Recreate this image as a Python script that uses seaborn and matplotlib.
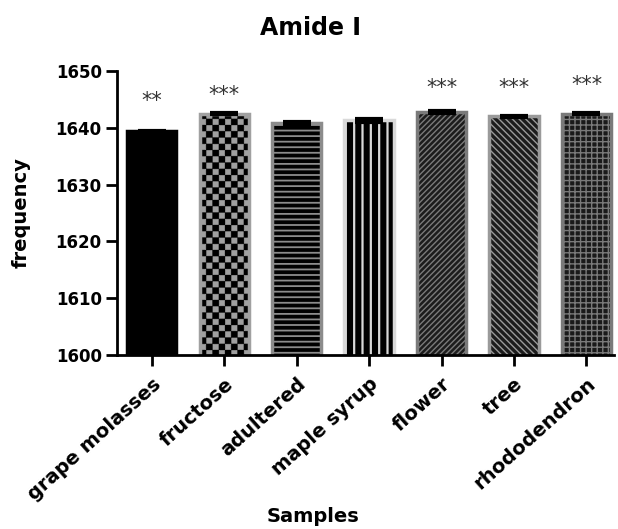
import warnings
warnings.filterwarnings("ignore")
import numpy as np
import matplotlib
matplotlib.use("Agg")
import matplotlib.pyplot as plt
from matplotlib import hatch as mhatch
from matplotlib.path import Path
import seaborn as sns
import pandas as pd

samples = ["grape molasses", "fructose", "adultered", "maple syrup", "flower", "tree", "rhododendron"]
frequency = [1639.4, 1642.5, 1640.8, 1641.3, 1642.8, 1642.0, 1642.5]
errors = [0.1, 0.15, 0.2, 0.2, 0.15, 0.15, 0.15]
stars = ["**", "***", "", "", "***", "***", "***"]
star_y = [1643.7, 1644.7, None, None, 1646.0, 1646.0, 1646.4]


# checkerboard hatch texture (used for the "fructose" bar)
class CheckerHatch(mhatch.Shapes):
    filled = True
    size = 1.0

    def __init__(self, hatch, density):
        self.num_rows = 4 if 'c' in hatch else 0
        verts, codes = [], []
        inset = 0.02
        for i in range(4):
            for j in range(4):
                if (i + j) % 2 == 0:
                    x0 = -0.5 + i * 0.25 + inset
                    x1 = -0.5 + (i + 1) * 0.25 - inset
                    y0 = -0.5 + j * 0.25 + inset
                    y1 = -0.5 + (j + 1) * 0.25 - inset
                    verts += [[x0, y0], [x1, y0], [x1, y1], [x0, y1], [x0, y0]]
                    codes += [Path.MOVETO, Path.LINETO, Path.LINETO, Path.LINETO, Path.CLOSEPOLY]
        self.shape_vertices = np.array(verts, dtype=float)
        self.shape_codes = np.array(codes, dtype=Path.code_type)
        super().__init__(hatch, density)


mhatch._hatch_types.append(CheckerHatch)

sns.set_style("ticks")
plt.rcParams['font.family'] = ['DejaVu Sans']
plt.rcParams['hatch.linewidth'] = 1.2
plt.rcParams['text.color'] = 'black'
plt.rcParams['axes.labelcolor'] = 'black'
plt.rcParams['xtick.color'] = 'black'
plt.rcParams['ytick.color'] = 'black'

df = pd.DataFrame({"Samples": samples, "frequency": frequency})

fig = plt.figure(figsize=(6.18, 5.29), dpi=100)
ax = fig.add_axes([117 / 618, 1 - 355 / 529, 497 / 618, 284 / 529])
sns.barplot(data=df, x="Samples", y="frequency", ax=ax, width=0.68, errorbar=None,
            color="black", zorder=2)

faces = ["black", "black", "black", "black", "#1c1c1c", "#1c1c1c", "#1a1a1a"]
edges = ["black", "#a0a0a0", "#8c8c8c", "#d9d9d9", "#7a7a7a", "#9a9a9a", "#7a7a7a"]
hatches = [None, "c", "---", "||", "//////", "\\\\\\\\\\", "+++"]
hlw = [1.0, 0.5, 1.3, 1.6, 1.0, 1.0, 1.0]
for p, fc, ec, h, lw in zip(ax.patches, faces, edges, hatches, hlw):
    p.set_facecolor(fc)
    p.set_edgecolor(ec)
    p.set_linewidth(2.5)
    if h:
        p.set_hatch(h)
    if hasattr(p, "set_hatch_linewidth"):
        p.set_hatch_linewidth(lw)

ax.errorbar(range(len(samples)), frequency, yerr=errors, fmt="none", ecolor="black",
            elinewidth=2, capsize=10, capthick=3, zorder=3)

for i, (s, yy) in enumerate(zip(stars, star_y)):
    if s:
        ax.text(i, yy, s, ha="center", va="baseline", fontsize=15, color="#333333")

ax.set_ylim(1600, 1650)
ax.set_xlim(-0.48, 6.38)
ax.set_yticks(range(1600, 1651, 10))
for side in ["top", "right"]:
    ax.spines[side].set_visible(False)
for side in ["left", "bottom"]:
    ax.spines[side].set_linewidth(2)
    ax.spines[side].set_color("black")
ax.tick_params(axis="both", width=2, length=8, color="black", labelcolor="black")
ax.tick_params(axis="y", pad=3)
ax.tick_params(axis="x", pad=6)
ax.set_xticks(range(len(samples)))
ax.set_xticklabels(samples, rotation=42, ha="right", rotation_mode="anchor",
                   fontsize=14, fontweight="bold")
for t in ax.get_yticklabels():
    t.set_fontweight("bold")
    t.set_fontsize(12)
ax.set_ylabel("frequency", fontsize=14, fontweight="bold", color="black")
ax.yaxis.set_label_coords(-0.173, 0.5)
ax.set_xlabel("Samples", fontsize=14, fontweight="bold", color="black")
ax.xaxis.set_label_coords(0.394, -0.535)
fig.text(311 / 618, 1 - 16 / 529, "Amide I", ha="center", va="top",
         fontsize=17, fontweight="bold", color="black")

fig.savefig("out.png", dpi=100)
